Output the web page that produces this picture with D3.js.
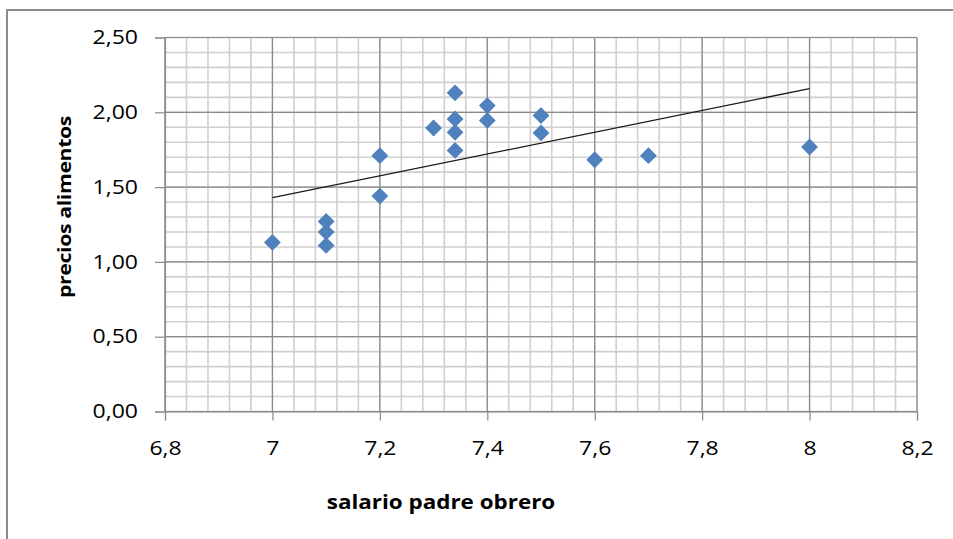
<!DOCTYPE html>
<html>
<head>
<meta charset="utf-8">
<script src="https://cdn.jsdelivr.net/npm/d3@7"></script>
<style>
  html, body { margin: 0; padding: 0; background: #fff; }
  svg { display: block; }
  text { font-family: "Open Sans", "Liberation Sans", sans-serif; fill: #000; }
</style>
</head>
<body>
<svg id="chart" width="953" height="539"></svg>
<script>
// salario padre obrero (x) vs precios alimentos (y)
const salario = [7.0, 7.1, 7.1, 7.1, 7.2, 7.2, 7.3, 7.34, 7.34, 7.34, 7.34, 7.4, 7.4, 7.5, 7.5, 7.6, 7.7, 8.0];
const precios = [1.13, 1.27, 1.20, 1.11, 1.71, 1.44, 1.895, 2.13, 1.955, 1.866, 1.745, 2.045, 1.946, 1.978, 1.862, 1.683, 1.71, 1.768];

const xTicks = [6.8, 7.0, 7.2, 7.4, 7.6, 7.8, 8.0, 8.2];
const yTicks = [0, 0.5, 1.0, 1.5, 2.0, 2.5];
const xTitle = "salario padre obrero";
const yTitle = "precios alimentos";

const svg = d3.select("#chart");
const W = 953, H = 539;
const plot = { left: 165, right: 917, top: 37.5, bottom: 411.5 };

const x = d3.scaleLinear().domain([6.8, 8.2]).range([plot.left, plot.right]);
const y = d3.scaleLinear().domain([0, 2.5]).range([plot.bottom, plot.top]);

const fmtX = v => (Math.round(v * 10) / 10).toString().replace(".", ",");
const fmtY = v => v.toFixed(2).replace(".", ",");

// chart frame
svg.append("rect")
  .attr("x", 7).attr("y", 10).attr("width", W + 10).attr("height", H + 10)
  .attr("fill", "#fff").attr("stroke", "#8c8c8c").attr("stroke-width", 2);

// minor gridlines
const minorX = d3.range(0, 36).map(i => 6.8 + i * 0.04);
const minorY = d3.range(0, 26).map(i => i * 0.1);
const grid = svg.append("g");
grid.selectAll(".mx").data(minorX).join("line")
  .attr("x1", d => x(d)).attr("x2", d => x(d))
  .attr("y1", plot.top).attr("y2", plot.bottom)
  .attr("stroke", "#cfcfcf").attr("stroke-width", 1.6);
grid.selectAll(".my").data(minorY).join("line")
  .attr("x1", plot.left).attr("x2", plot.right)
  .attr("y1", d => y(d)).attr("y2", d => y(d))
  .attr("stroke", "#cfcfcf").attr("stroke-width", 1.6);

// major gridlines
grid.selectAll(".Mx").data(xTicks).join("line")
  .attr("x1", d => x(d)).attr("x2", d => x(d))
  .attr("y1", plot.top).attr("y2", plot.bottom)
  .attr("stroke", "#8a8a8a").attr("stroke-width", 1.2);
grid.selectAll(".My").data(yTicks).join("line")
  .attr("x1", plot.left).attr("x2", plot.right)
  .attr("y1", d => y(d)).attr("y2", d => y(d))
  .attr("stroke", "#8a8a8a").attr("stroke-width", 1.2);

// axes
const xAxis = d3.axisBottom(x).tickValues(xTicks).tickFormat(fmtX).tickSize(9).tickPadding(21);
const yAxis = d3.axisLeft(y).tickValues(yTicks).tickFormat(fmtY).tickSize(10).tickPadding(18);

const gx = svg.append("g").attr("transform", `translate(0,${plot.bottom})`).call(xAxis);
const gy = svg.append("g").attr("transform", `translate(${plot.left},0)`).call(yAxis);
[gx, gy].forEach(g => {
  g.selectAll(".domain").attr("stroke", "#8a8a8a").attr("stroke-width", 1.2);
  g.selectAll(".tick line").attr("stroke", "#8a8a8a").attr("stroke-width", 1.2);
  g.selectAll("text").attr("font-size", 19.5).attr("font-family", "Open Sans").attr("fill", "#111");
});
// slightly wide lettering for the tick labels
gx.selectAll(".tick text").attr("transform", "scale(1.18,1)").attr("x", 0);
gy.selectAll(".tick text").attr("transform", "translate(-27,0) scale(1.18,1)").attr("x", 0);

// linear trend line (least squares)
const mx = d3.mean(salario), my = d3.mean(precios);
const sxy = d3.sum(salario, (v, i) => (v - mx) * (precios[i] - my));
const sxx = d3.sum(salario, v => (v - mx) * (v - mx));
const slope = sxy / sxx, icpt = my - slope * mx;
const xMin = d3.min(salario), xMax = d3.max(salario);
svg.append("line")
  .attr("x1", x(xMin)).attr("y1", y(icpt + slope * xMin))
  .attr("x2", x(xMax)).attr("y2", y(icpt + slope * xMax))
  .attr("stroke", "#1a1a1a").attr("stroke-width", 1.3);

// diamond markers
const diamond = d3.symbol().type(d3.symbolDiamond2).size(2 * 9.5 * 9.5);
svg.append("g").selectAll("path").data(salario).join("path")
  .attr("d", diamond)
  .attr("transform", (d, i) => `translate(${x(d)},${y(precios[i])})`)
  .attr("fill", "#4f81bd");

// axis titles
svg.append("text")
  .attr("transform", `translate(441,509) scale(1.18,1)`)
  .attr("text-anchor", "middle")
  .attr("font-size", 19).attr("font-weight", "bold")
  .text(xTitle);
svg.append("text")
  .attr("transform", `translate(71,207) rotate(-90) scale(1.25,1)`)
  .attr("text-anchor", "middle")
  .attr("font-size", 17).attr("font-weight", "bold")
  .attr("letter-spacing", -0.3)
  .text(yTitle);
</script>
</body>
</html>
